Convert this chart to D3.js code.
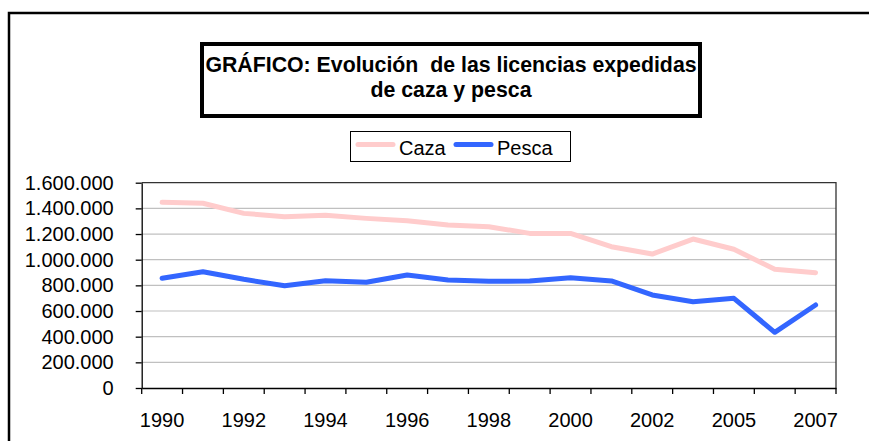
<!DOCTYPE html>
<html>
<head>
<meta charset="utf-8">
<script src="https://cdn.jsdelivr.net/npm/d3@7"></script>
<style>
  body { margin: 0; background: #fff; }
  svg { display: block; font-family: "Liberation Sans", Arial, sans-serif; }
</style>
</head>
<body>
<div id="viz"></div>
<script>
const years = ['1990', '1991', '1992', '1993', '1994', '1995', '1996', '1997', '1998',
    '1999', '2000', '2001', '2002', '2003', '2005', '2006', '2007'];
const caza = [1447000, 1440000, 1361000, 1335000, 1346000, 1322000, 1304000, 1270000, 1257000,
    1205000, 1205000, 1101000, 1044000, 1161000, 1081000, 925000, 899000];
const pesca = [855000, 906000, 847000, 797000, 836000, 824000, 880000, 842000, 831000,
    834000, 860000, 834000, 725000, 672000, 699000, 434000, 647000];
const yTicks = [0, 200000, 400000, 600000, 800000, 1000000, 1200000, 1400000, 1600000];
const titleLines = ['GRÁFICO: Evolución  de las licencias expedidas', 'de caza y pesca'];
const series = [
    { name: 'Caza', values: caza, color: '#ffcccc' },
    { name: 'Pesca', values: pesca, color: '#3366ff' },
];

const width = 869;
const height = 441;
const plot = { left: 141.7, right: 836, top: 182.7, bottom: 388 };

const svg = d3
    .select('#viz')
    .append('svg')
    .attr('width', width)
    .attr('height', height);

// outer frame (runs off the right and bottom edges)
svg.append('rect')
    .attr('x', 9)
    .attr('y', 13)
    .attr('width', 900)
    .attr('height', 500)
    .attr('fill', 'none')
    .attr('stroke', '#000')
    .attr('stroke-width', 2.5);

// title box
svg.append('rect')
    .attr('x', 202)
    .attr('y', 44)
    .attr('width', 498)
    .attr('height', 72)
    .attr('fill', '#fff')
    .attr('stroke', '#000')
    .attr('stroke-width', 4);

svg.append('g')
    .selectAll('text')
    .data(titleLines)
    .join('text')
    .attr('x', 451)
    .attr('y', (d, i) => 72 + i * 25)
    .attr('text-anchor', 'middle')
    .attr('font-size', 21.3)
    .attr('font-weight', 'bold')
    .style('white-space', 'pre')
    .text((d) => d);

// scales
const xScale = d3.scaleBand().domain(years).range([plot.left, plot.right]).padding(0);
const yScale = d3.scaleLinear().domain([0, 1600000]).range([plot.bottom, plot.top]);
const fmt = d3.formatLocale({ decimal: ',', thousands: '.', grouping: [3], currency: ['', '€'] }).format(',d');

// gridlines
svg.append('g')
    .selectAll('line')
    .data(yTicks.slice(1, -1))
    .join('line')
    .attr('x1', plot.left)
    .attr('x2', plot.right)
    .attr('y1', (d) => yScale(d))
    .attr('y2', (d) => yScale(d))
    .attr('stroke', '#c0c0c0')
    .attr('stroke-width', 1.2);

// plot frame top/right
svg.append('path')
    .attr('d', `M${plot.left},${plot.top}H${plot.right}V${plot.bottom}`)
    .attr('fill', 'none')
    .attr('stroke', '#333')
    .attr('stroke-width', 1.3);

// y axis
const yAxis = svg.append('g')
    .attr('transform', `translate(${plot.left},0)`)
    .call(d3.axisLeft(yScale).tickValues(yTicks).tickFormat(fmt).tickSize(6).tickPadding(22).tickSizeOuter(0));
yAxis.selectAll('text').attr('font-size', 20).attr('fill', '#000').attr('font-family', null);
yAxis.selectAll('line, path').attr('stroke', '#000').attr('stroke-width', 1.3);

// x axis: labels at every other category
const xAxis = svg.append('g')
    .attr('transform', `translate(0,${plot.bottom})`)
    .call(d3.axisBottom(xScale)
        .tickValues(years.filter((d, i) => i % 2 === 0))
        .tickSize(0)
        .tickPadding(25)
        .tickSizeOuter(0));
xAxis.selectAll('text').attr('font-size', 20).attr('fill', '#000').attr('font-family', null);
xAxis.select('path').attr('stroke', '#000').attr('stroke-width', 1.3);

// x tick marks at category edges
const edges = years.map((d) => xScale(d)).concat([plot.right]);
xAxis.append('g')
    .selectAll('line')
    .data(edges)
    .join('line')
    .attr('x1', (d) => d)
    .attr('x2', (d) => d)
    .attr('y1', 0)
    .attr('y2', 6)
    .attr('stroke', '#000')
    .attr('stroke-width', 1.3);

// lines
const line = d3.line()
    .x((d, i) => xScale(years[i]) + xScale.bandwidth() / 2)
    .y((d) => yScale(d));

svg.append('g')
    .selectAll('path')
    .data(series)
    .join('path')
    .attr('d', (d) => line(d.values))
    .attr('fill', 'none')
    .attr('stroke', (d) => d.color)
    .attr('stroke-width', 5)
    .attr('stroke-linejoin', 'round')
    .attr('stroke-linecap', 'round');

// legend
const legend = svg.append('g');
legend.append('rect')
    .attr('x', 350.5)
    .attr('y', 131.5)
    .attr('width', 220)
    .attr('height', 30)
    .attr('fill', '#fff')
    .attr('stroke', '#000')
    .attr('stroke-width', 1);

const legendX = [356, 454];
legend.selectAll('g')
    .data(series)
    .join('g')
    .each(function (d, i) {
        const g = d3.select(this);
        g.append('line')
            .attr('x1', legendX[i] + 2)
            .attr('x2', legendX[i] + 37)
            .attr('y1', 144.5)
            .attr('y2', 144.5)
            .attr('stroke', d.color)
            .attr('stroke-width', 5)
            .attr('stroke-linecap', 'round');
        g.append('text')
            .attr('x', legendX[i] + 43)
            .attr('y', 155)
            .attr('font-size', 20)
            .text(d.name);
    });
</script>
</body>
</html>
